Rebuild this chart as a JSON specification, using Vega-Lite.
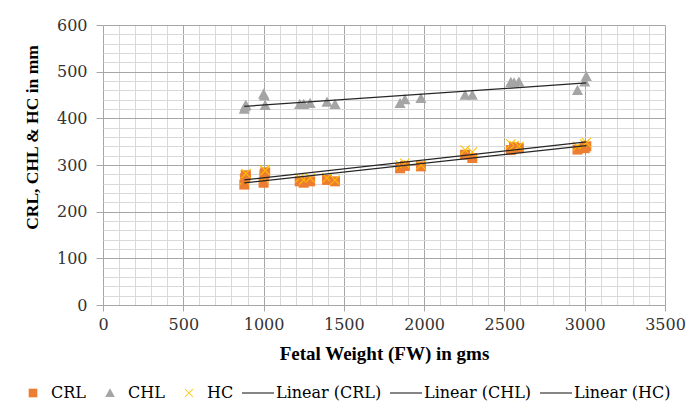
{
  "$schema": "https://vega.github.io/schema/vega-lite/v6.json",
  "autosize": {"type": "none"},
  "width": 562,
  "height": 280,
  "padding": {"left": 103, "top": 25, "right": 32, "bottom": 107},
  "background": "white",
  "config": {
    "view": {"stroke": null},
    "font": "Liberation Serif"
  },
  "data": {
    "values": [
      {"w": 880, "s": "CRL", "v": 258}, {"w": 880, "s": "CHL", "v": 420}, {"w": 880, "s": "HC", "v": 268},
      {"w": 885, "s": "CRL", "v": 272}, {"w": 885, "s": "CHL", "v": 425}, {"w": 885, "s": "HC", "v": 278},
      {"w": 890, "s": "CRL", "v": 278}, {"w": 890, "s": "CHL", "v": 428}, {"w": 890, "s": "HC", "v": 282},
      {"w": 1000, "s": "CRL", "v": 262}, {"w": 1000, "s": "CHL", "v": 452}, {"w": 1000, "s": "HC", "v": 272},
      {"w": 1005, "s": "CRL", "v": 280}, {"w": 1005, "s": "CHL", "v": 448}, {"w": 1005, "s": "HC", "v": 290},
      {"w": 1010, "s": "CRL", "v": 284}, {"w": 1010, "s": "CHL", "v": 428}, {"w": 1010, "s": "HC", "v": 288},
      {"w": 1225, "s": "CRL", "v": 265}, {"w": 1225, "s": "CHL", "v": 430}, {"w": 1225, "s": "HC", "v": 272},
      {"w": 1250, "s": "CRL", "v": 262}, {"w": 1250, "s": "CHL", "v": 430}, {"w": 1250, "s": "HC", "v": 268},
      {"w": 1290, "s": "CRL", "v": 265}, {"w": 1290, "s": "CHL", "v": 432}, {"w": 1290, "s": "HC", "v": 272},
      {"w": 1395, "s": "CRL", "v": 268}, {"w": 1395, "s": "CHL", "v": 435}, {"w": 1395, "s": "HC", "v": 272},
      {"w": 1445, "s": "CRL", "v": 265}, {"w": 1445, "s": "CHL", "v": 430}, {"w": 1445, "s": "HC", "v": 268},
      {"w": 1850, "s": "CRL", "v": 293}, {"w": 1850, "s": "CHL", "v": 432}, {"w": 1850, "s": "HC", "v": 300},
      {"w": 1880, "s": "CRL", "v": 298}, {"w": 1880, "s": "CHL", "v": 440}, {"w": 1880, "s": "HC", "v": 304},
      {"w": 1980, "s": "CRL", "v": 297}, {"w": 1980, "s": "CHL", "v": 443}, {"w": 1980, "s": "HC", "v": 300},
      {"w": 2255, "s": "CRL", "v": 322}, {"w": 2255, "s": "CHL", "v": 450}, {"w": 2255, "s": "HC", "v": 332},
      {"w": 2300, "s": "CRL", "v": 315}, {"w": 2300, "s": "CHL", "v": 450}, {"w": 2300, "s": "HC", "v": 328},
      {"w": 2540, "s": "CRL", "v": 332}, {"w": 2540, "s": "CHL", "v": 477}, {"w": 2540, "s": "HC", "v": 345},
      {"w": 2560, "s": "CRL", "v": 338}, {"w": 2560, "s": "CHL", "v": 476}, {"w": 2560, "s": "HC", "v": 342},
      {"w": 2590, "s": "CRL", "v": 336}, {"w": 2590, "s": "CHL", "v": 478}, {"w": 2590, "s": "HC", "v": 340},
      {"w": 2955, "s": "CRL", "v": 333}, {"w": 2955, "s": "CHL", "v": 460}, {"w": 2955, "s": "HC", "v": 340},
      {"w": 3000, "s": "CRL", "v": 336}, {"w": 3000, "s": "CHL", "v": 478}, {"w": 3000, "s": "HC", "v": 345},
      {"w": 3010, "s": "CRL", "v": 340}, {"w": 3010, "s": "CHL", "v": 490}, {"w": 3010, "s": "HC", "v": 348}
    ]
  },
  "encoding": {
    "x": {
      "field": "w", "type": "quantitative",
      "scale": {"domain": [0, 3500], "nice": false, "zero": false},
      "axis": {
        "values": [0,100,200,300,400,500,600,700,800,900,1000,1100,1200,1300,1400,1500,1600,1700,1800,1900,2000,2100,2200,2300,2400,2500,2600,2700,2800,2900,3000,3100,3200,3300,3400,3500],
        "format": "d",
        "labelExpr": "datum.value % 500 === 0 ? datum.label : ''",
        "domain": false,
        "gridColor": {"condition": {"test": "datum.value % 500 === 0", "value": "#a6a6a6"}, "value": "#d9d9d9"},
        "gridWidth": 1,
        "tickColor": {"condition": {"test": "datum.value % 500 === 0", "value": "#a6a6a6"}, "value": "transparent"},
        "tickSize": 6,
        "labelFont": "DejaVu Serif",
        "labelFontSize": 16,
        "labelColor": "#333333",
        "labelPadding": 5,
        "labelFlush": false,
        "title": "Fetal Weight (FW) in gms",
        "titleFont": "Liberation Serif",
        "titleFontSize": 19,
        "titleFontWeight": "bold",
        "titleColor": "#000000",
        "titlePadding": 12
      }
    },
    "y": {
      "field": "v", "type": "quantitative",
      "scale": {"domain": [0, 600], "nice": false},
      "axis": {
        "values": [0,20,40,60,80,100,120,140,160,180,200,220,240,260,280,300,320,340,360,380,400,420,440,460,480,500,520,540,560,580,600],
        "labelExpr": "datum.value % 100 === 0 ? datum.label : ''",
        "domain": false,
        "gridColor": {"condition": {"test": "datum.value % 100 === 0", "value": "#a6a6a6"}, "value": "#d9d9d9"},
        "gridWidth": 1,
        "tickColor": {"condition": {"test": "datum.value % 100 === 0", "value": "#a6a6a6"}, "value": "transparent"},
        "tickSize": 7,
        "labelFont": "DejaVu Serif",
        "labelFontSize": 16,
        "labelColor": "#333333",
        "labelPadding": 9,
        "labelFlush": false,
        "title": "CRL, CHL & HC in mm",
        "titleFont": "Liberation Serif",
        "titleFontSize": 17.5,
        "titleFontWeight": "bold",
        "titleColor": "#000000",
        "titleX": -62,
        "titleY": 112
      }
    }
  },
  "layer": [
    {
      "mark": {"type": "point", "filled": true, "opacity": 1, "size": 1369},
      "encoding": {
        "color": {
          "field": "s", "type": "nominal",
          "scale": {
            "domain": ["CRL", "CHL", "HC", "Linear (CRL)", "Linear (CHL)", "Linear (HC)"],
            "range": ["#ED7D31", "#A5A5A5", "#FFC000", "#262626", "#262626", "#262626"]
          },
          "legend": {
            "orient": "none",
            "legendX": -86,
            "legendY": 352,
            "direction": "horizontal",
            "columns": 6,
            "columnPadding": 8,
            "title": null,
            "symbolSize": 1024,
            "symbolStrokeWidth": 0,
            "labelFont": "DejaVu Serif",
            "labelFontSize": 16,
            "labelColor": "#000000",
            "labelOffset": 2,
            "labelLimit": 200
          }
        },
        "shape": {
          "field": "s", "type": "nominal",
          "scale": {
            "domain": ["CRL", "CHL", "HC", "Linear (CRL)", "Linear (CHL)", "Linear (HC)"],
            "range": [
              "M-0.27,-0.27L0.27,-0.27L0.27,0.27L-0.27,0.27Z",
              "M0,-0.3L0.3,0.25L-0.3,0.25Z",
              "M-0.27,-0.23L-0.23,-0.27L0.27,0.23L0.23,0.27Z M0.23,-0.27L0.27,-0.23L-0.23,0.27L-0.27,0.23Z",
              "M-1,-0.035L1,-0.035L1,0.035L-1,0.035Z",
              "M-1,-0.035L1,-0.035L1,0.035L-1,0.035Z",
              "M-1,-0.035L1,-0.035L1,0.035L-1,0.035Z"
            ]
          }
        }
      }
    },
    {
      "transform": [{"regression": "v", "on": "w", "groupby": ["s"]}],
      "mark": {"type": "line", "color": "#262626", "strokeWidth": 1.3},
      "encoding": {"detail": {"field": "s", "type": "nominal"}}
    }
  ]
}
